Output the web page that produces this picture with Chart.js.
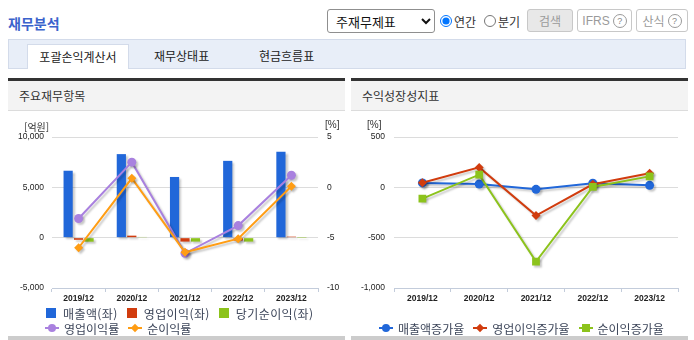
<!DOCTYPE html>
<html lang="ko">
<head>
<meta charset="utf-8">
<script src="https://cdn.jsdelivr.net/npm/chart.js@4"></script>
<style>
  body { margin: 0; width: 694px; height: 340px; overflow: hidden; background: #fff; position: relative;
         font-family: "Noto Sans CJK KR", sans-serif; color: #333; }
  .abs { position: absolute; }
  #title { left: 8px; top: 12px; font-size: 14px; font-weight: bold; color: #3b63cc; line-height: 22px; }
  #kind { left: 327px; top: 9px; width: 108px; height: 24px; font-size: 13px; font-family: "Noto Sans CJK KR";
          border: 1px solid #8f8f8f; border-radius: 3px; background: #fff; color: #111; padding: 0 4px; }
  .radio { top: 11px; height: 20px; display: flex; align-items: center; font-size: 12px; color: #333; }
  .radio input { margin: 0 2px 0 0; width: 12px; height: 12px; }
  .btn { top: 9px; height: 21px; border: 1px solid #c8c8c8; border-radius: 3px; background: #fff; color: #9a9a9a;
         font-size: 12px; display: flex; align-items: center; justify-content: center; gap: 3px; }
  .btn.gray { background: #e8e8e8; }
  .q { width: 12px; height: 12px; border: 1px solid #9a9a9a; border-radius: 50%; font: 9px "Liberation Sans";
       display: flex; align-items: center; justify-content: center; color: #888; }
  #tabbar { left: 8px; top: 39px; width: 676px; height: 28px; background: #e8eef8; border: 1px solid #d3dbea; }
  .tab { top: 44px; height: 24px; font-size: 12px; line-height: 24px; color: #222; }
  #active { left: 27px; width: 100px; background: #fff; border: 1px solid #d3dbea; border-bottom: none; text-align: center; }
  .panel { top: 78px; width: 337px; height: 262px; }
  .panel .bar { height: 3px; background: #333; }
  .panel .head { height: 29px; background: #f3f3f3; border-bottom: 1px solid #dcdcdc; font-size: 12px;
                 line-height: 29px; padding-left: 11px; color: #333; }
  .panel .foot { position: absolute; left: 0; right: 0; top: 258px; height: 4px; background: #cccccc; }
  canvas { position: absolute; }
  .unit { font-size: 10px; color: #333; top: 119px; }
  .lg { position: absolute; display: flex; align-items: center; height: 16px; font-size: 12px; color: #3c4559; white-space: nowrap; }
  .it { display: inline-flex; align-items: center; margin-right: 9px; }
  .box { width: 10px; height: 10px; margin-right: 7px; }
  .mk { position: relative; width: 14px; height: 10px; margin-right: 5px; }
  .mk .ln { position: absolute; left: 0; right: 0; top: 4px; height: 2px; }
  .mk .pt { position: absolute; }
</style>
</head>
<body>
<div id="title" class="abs">재무분석</div>
<select id="kind" class="abs"><option>주재무제표</option></select>
<label class="radio abs" style="left:440px"><input type="radio" name="p" checked>연간</label>
<label class="radio abs" style="left:484px"><input type="radio" name="p">분기</label>
<div class="btn gray abs" style="left:527px;width:44px">검색</div>
<div class="btn abs" style="left:577px;width:53px"><span style="font-family:'Liberation Sans'">IFRS</span><span class="q">?</span></div>
<div class="btn abs" style="left:636px;width:50px">산식 <span class="q">?</span></div>

<div id="tabbar" class="abs"></div>
<div id="active" class="tab abs">포괄손익계산서</div>
<div class="tab abs" style="left:154px">재무상태표</div>
<div class="tab abs" style="left:259px">현금흐름표</div>

<div class="panel abs" style="left:8px"><div class="bar"></div><div class="head">주요재무항목</div><div class="foot"></div></div>
<div class="panel abs" style="left:351px"><div class="bar"></div><div class="head">수익성장성지표</div><div class="foot"></div></div>

<canvas id="leftChart" width="337" height="224" style="left:8px;top:112px"></canvas>
<canvas id="rightChart" width="337" height="224" style="left:351px;top:112px"></canvas>
<div class="unit abs" style="left:24px">[억원]</div>
<div class="unit abs" style="left:325px;font-family:'Liberation Sans'">[%]</div>
<div class="unit abs" style="left:367px;font-family:'Liberation Sans'">[%]</div>

<div id="legendL1" class="lg" style="left:46px;top:305px;letter-spacing:0.4px"></div>
<div id="legendL2" class="lg" style="left:45px;top:320px"></div>
<div id="legendR" class="lg" style="left:379px;top:320px"></div>

<script>
// data
const categories = ["2019/12", "2020/12", "2021/12", "2022/12", "2023/12"];
const revenue = [6650, 8300, 6030, 7630, 8530];          // 매출액 (억원)
const operatingProfit = [-210, 200, -390, -290, 100];   // 영업이익 (억원)
const netIncome = [-400, 70, -390, -390, 10];           // 당기순이익 (억원)
const operatingMargin = [-3.1, 2.5, -6.55, -3.8, 1.2];  // 영업이익률 (%)
const netMargin = [-6.0, 0.9, -6.45, -5.1, 0.1];        // 순이익률 (%)
const revenueGrowth = [44, 33, -20, 40, 20];            // 매출액증가율 (%)
const operatingGrowth = [46, 198, -280, 30, 140];       // 영업이익증가율 (%)
const netGrowth = [-112, 126, -738, 4, 109];            // 순이익증가율 (%)

const BLUE = "#2167d9", RED = "#d13c0e", GREEN = "#8cc31c", PURPLE = "#a981df", ORANGE = "#ff9d14";
const tickFont = { family: "'Liberation Sans', Arial, sans-serif", size: 8.5 };
const xFont = { family: "'Liberation Sans', Arial, sans-serif", size: 8.5, weight: "bold" };

const shadow = {
  id: "shadow",
  beforeDatasetDraw(chart) {
    const ctx = chart.ctx;
    ctx.save();
    ctx.shadowColor = "rgba(0,0,0,0.22)";
    ctx.shadowBlur = 2;
    ctx.shadowOffsetX = 2;
    ctx.shadowOffsetY = 2;
  },
  afterDatasetDraw(chart) { chart.ctx.restore(); }
};

const fmt = v => v.toLocaleString("en-US");

function xAxis() {
  return {
    offset: true,
    grid: { offset: true, drawOnChartArea: false, color: "#c3ccdb", tickLength: 4 },
    border: { color: "#c3ccdb" },
    ticks: { font: xFont, color: "#222", padding: 2, maxRotation: 0 },
    afterFit: s => { s.height = 20; }
  };
}

function lineSet(label, data, color, style, radius, axis, order) {
  return { type: "line", label, data, yAxisID: axis, borderColor: color, backgroundColor: color,
           borderWidth: 2, pointStyle: style, pointRadius: radius, pointBorderWidth: 0, order };
}

function barSet(label, data, color) {
  return { type: "bar", label, data, yAxisID: "y", backgroundColor: color,
           categoryPercentage: 0.59, barPercentage: 0.88, order: 5 };
}

const leftChart = new Chart(document.getElementById("leftChart"), {
  data: {
    labels: categories,
    datasets: [
      lineSet("순이익률", netMargin, ORANGE, "rectRot", 4.5, "y1", 0),
      lineSet("영업이익률", operatingMargin, PURPLE, "circle", 4.5, "y1", 1),
      barSet("매출액(좌)", revenue, BLUE),
      barSet("영업이익(좌)", operatingProfit, RED),
      barSet("당기순이익(좌)", netIncome, GREEN)
    ]
  },
  options: {
    responsive: false,
    animation: false,
    layout: { padding: { top: 25, right: 0, bottom: 28, left: 0 } },
    plugins: { legend: { display: false }, tooltip: { enabled: false } },
    scales: {
      x: xAxis(),
      y: {
        min: -5000, max: 10000,
        ticks: { stepSize: 5000, font: tickFont, color: "#222", padding: 8, callback: fmt },
        grid: { color: "#dcdcdc", drawTicks: false },
        border: { display: false },
        afterFit: s => { s.width = 44; }
      },
      y1: {
        position: "right", min: -10, max: 5,
        ticks: { stepSize: 5, font: tickFont, color: "#222", padding: 9 },
        grid: { drawOnChartArea: false, drawTicks: false },
        border: { display: false },
        afterFit: s => { s.width = 27; }
      }
    }
  },
  plugins: [shadow]
});

const rightChart = new Chart(document.getElementById("rightChart"), {
  data: {
    labels: categories,
    datasets: [
      lineSet("순이익증가율", netGrowth, GREEN, "rect", 5.5, "y", 0),
      lineSet("영업이익증가율", operatingGrowth, RED, "rectRot", 4.5, "y", 1),
      lineSet("매출액증가율", revenueGrowth, BLUE, "circle", 4.5, "y", 2)
    ]
  },
  options: {
    responsive: false,
    animation: false,
    layout: { padding: { top: 25, right: 10, bottom: 28, left: 0 } },
    plugins: { legend: { display: false }, tooltip: { enabled: false } },
    scales: {
      x: xAxis(),
      y: {
        min: -1000, max: 500,
        ticks: { stepSize: 500, font: tickFont, color: "#222", padding: 9, callback: fmt },
        grid: { color: "#dcdcdc", drawTicks: false },
        border: { display: false },
        afterFit: s => { s.width = 43; }
      }
    }
  },
  plugins: [shadow]
});

// html legends built from the chart datasets
function marker(ds) {
  const m = document.createElement("span");
  const c = ds.borderColor;
  if (ds.type === "bar") {
    m.className = "box";
    m.style.background = ds.backgroundColor;
    return m;
  }
  m.className = "mk";
  const ln = document.createElement("span");
  ln.className = "ln";
  ln.style.background = c;
  const pt = document.createElement("span");
  pt.className = "pt";
  pt.style.background = c;
  if (ds.pointStyle === "circle") {
    Object.assign(pt.style, { width: "8px", height: "8px", left: "3px", top: "1px", borderRadius: "50%" });
  } else if (ds.pointStyle === "rectRot") {
    Object.assign(pt.style, { width: "6px", height: "6px", left: "4px", top: "2px", transform: "rotate(45deg)" });
  } else {
    Object.assign(pt.style, { width: "8px", height: "8px", left: "3px", top: "1px" });
  }
  m.appendChild(ln);
  m.appendChild(pt);
  return m;
}

function addLegend(id, chart, labels) {
  const box = document.getElementById(id);
  labels.forEach(label => {
    const ds = chart.data.datasets.find(d => d.label === label);
    const it = document.createElement("span");
    it.className = "it";
    it.appendChild(marker(ds));
    it.appendChild(document.createTextNode(label));
    box.appendChild(it);
  });
}

addLegend("legendL1", leftChart, ["매출액(좌)", "영업이익(좌)", "당기순이익(좌)"]);
addLegend("legendL2", leftChart, ["영업이익률", "순이익률"]);
addLegend("legendR", rightChart, ["매출액증가율", "영업이익증가율", "순이익증가율"]);
</script>
</body>
</html>
